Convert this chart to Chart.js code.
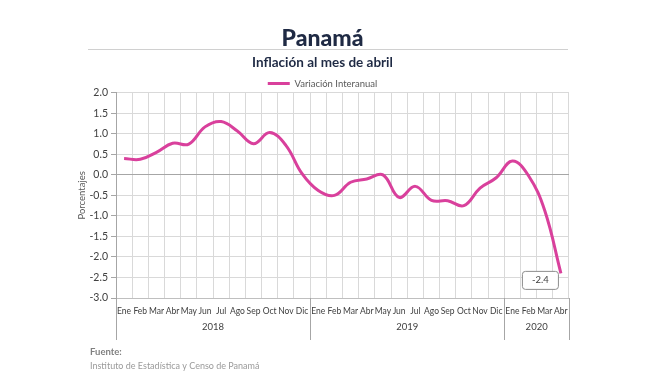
<!DOCTYPE html>
<html>
<head>
<meta charset="utf-8">
<script src="https://cdn.jsdelivr.net/npm/chart.js@4"></script>
<style>
  html, body { margin:0; padding:0; background:#fff; }
  #wrap { width:648px; height:382px; }
</style>
</head>
<body>
<div id="wrap"><canvas id="chart" width="648" height="382"></canvas></div>
<script>
// Datos
const meses = ['Ene','Feb','Mar','Abr','May','Jun','Jul','Ago','Sep','Oct','Nov','Dic',
               'Ene','Feb','Mar','Abr','May','Jun','Jul','Ago','Sep','Oct','Nov','Dic',
               'Ene','Feb','Mar','Abr'];
const anios = ['2018','2019','2020'];
const mesesPorAnio = [12, 12, 4];
const variacion = [0.40, 0.38, 0.55, 0.77, 0.75, 1.17, 1.30, 1.07, 0.76, 1.03, 0.72, 0.03,
                   -0.38, -0.50, -0.18, -0.10, 0.00, -0.55, -0.28, -0.62, -0.63, -0.75, -0.32, -0.07,
                   0.34, -0.02, -0.87, -2.4];
const yTicks = [2.0, 1.5, 1.0, 0.5, 0.0, -0.5, -1.0, -1.5, -2.0, -2.5, -3.0];

const FONT = 'Lato, "Open Sans", sans-serif';
const ROSA = '#d9409c';

// Linea bajo el titulo, años, etiqueta final y fuente
const extras = {
  id: 'extras',
  afterDraw(chart) {
    const ctx = chart.ctx;
    const x = chart.scales.x;
    const area = chart.chartArea;
    ctx.save();

    // linea del titulo
    ctx.strokeStyle = '#d0d0d0';
    ctx.lineWidth = 1;
    ctx.beginPath();
    ctx.moveTo(88, 49.5);
    ctx.lineTo(568, 49.5);
    ctx.stroke();

    // separadores y años
    const half = (x.getPixelForValue(1) - x.getPixelForValue(0)) / 2;
    let idx = 0;
    ctx.strokeStyle = '#a6a6a6';
    ctx.fillStyle = '#404040';
    ctx.font = '9.5px ' + FONT;
    ctx.textAlign = 'center';
    ctx.textBaseline = 'middle';
    const sep = (px) => {
      ctx.beginPath();
      ctx.moveTo(Math.round(px) + 0.5, area.bottom);
      ctx.lineTo(Math.round(px) + 0.5, 340);
      ctx.stroke();
    };
    sep(x.getPixelForValue(0) - half);
    anios.forEach((a, i) => {
      const ini = x.getPixelForValue(idx) - half;
      const fin = x.getPixelForValue(idx + mesesPorAnio[i] - 1) + half;
      ctx.fillText(a, (ini + fin) / 2, 327);
      sep(fin);
      idx += mesesPorAnio[i];
    });

    // etiqueta del ultimo dato
    const meta = chart.getDatasetMeta(0);
    const last = meta.data[meta.data.length - 1];
    const bx = last.x - 38.5, by = last.y - 2, bw = 36, bh = 18;
    ctx.beginPath();
    ctx.roundRect(bx, by, bw, bh, 3);
    ctx.fillStyle = '#fff';
    ctx.fill();
    ctx.strokeStyle = '#8c8c8c';
    ctx.stroke();
    ctx.fillStyle = '#404040';
    ctx.font = '9.5px ' + FONT;
    ctx.fillText(variacion[variacion.length - 1].toFixed(1), bx + bw / 2, by + bh / 2);

    // fuente
    ctx.textAlign = 'left';
    ctx.fillStyle = '#808080';
    ctx.font = 'bold 9.5px ' + FONT;
    ctx.fillText('Fuente:', 90, 352);
    ctx.font = '9px ' + FONT;
    ctx.fillStyle = '#9a9a9a';
    ctx.fillText('Instituto de Estadística y Censo de Panamá', 90, 366);
    ctx.restore();
  }
};

new Chart(document.getElementById('chart'), {
  type: 'line',
  data: {
    labels: meses,
    datasets: [{
      label: 'Variación Interanual',
      data: variacion,
      borderColor: ROSA,
      backgroundColor: ROSA,
      borderWidth: 3,
      pointRadius: 0,
      pointStyle: 'line',
      tension: 0.4
    }]
  },
  options: {
    responsive: false,
    animation: false,
    layout: { padding: { left: 76, right: 79, top: 0, bottom: 0 } },
    plugins: {
      title: {
        display: true, text: 'Panamá', color: '#1f2a44',
        font: { family: FONT, size: 23, weight: 900 },
        padding: { top: 25, bottom: 2 }
      },
      subtitle: {
        display: true, text: 'Inflación al mes de abril', color: '#1f2a44',
        font: { family: FONT, size: 13.5, weight: 'bold' },
        padding: { top: 0, bottom: 3 }
      },
      legend: {
        position: 'top', maxHeight: 19,
        labels: {
          usePointStyle: true, pointStyleWidth: 22, boxHeight: 9, padding: 5,
          color: '#595959', font: { family: FONT, size: 9.5 }
        }
      },
      tooltip: { enabled: false }
    },
    scales: {
      x: {
        offset: true,
        grid: { offset: true, drawTicks: false, color: '#d9d9d9' },
        border: { color: '#bfbfbf' },
        ticks: {
          autoSkip: false, maxRotation: 0, minRotation: 0, padding: 8,
          color: '#404040', font: { family: FONT, size: 8.5 }
        },
        afterFit(s) { s.height = 84; }
      },
      y: {
        min: -3, max: 2,
        afterBuildTicks(s) { s.ticks = yTicks.map(v => ({ value: v })); },
        grid: {
          color: (c) => c.tick && c.tick.value === 0 ? '#a6a6a6' : '#d9d9d9',
          tickColor: '#a6a6a6', tickLength: 5
        },
        border: { color: '#a6a6a6' },
        ticks: {
          padding: 3, color: '#404040', font: { family: FONT, size: 10.5 },
          callback: (v) => Number(v).toFixed(1)
        },
        title: {
          display: true, text: 'Porcentajes', color: '#595959',
          font: { family: FONT, size: 9.5 }, padding: 0
        },
        afterFit(s) { s.width = 40; }
      }
    }
  },
  plugins: [extras]
});
</script>
</body>
</html>
